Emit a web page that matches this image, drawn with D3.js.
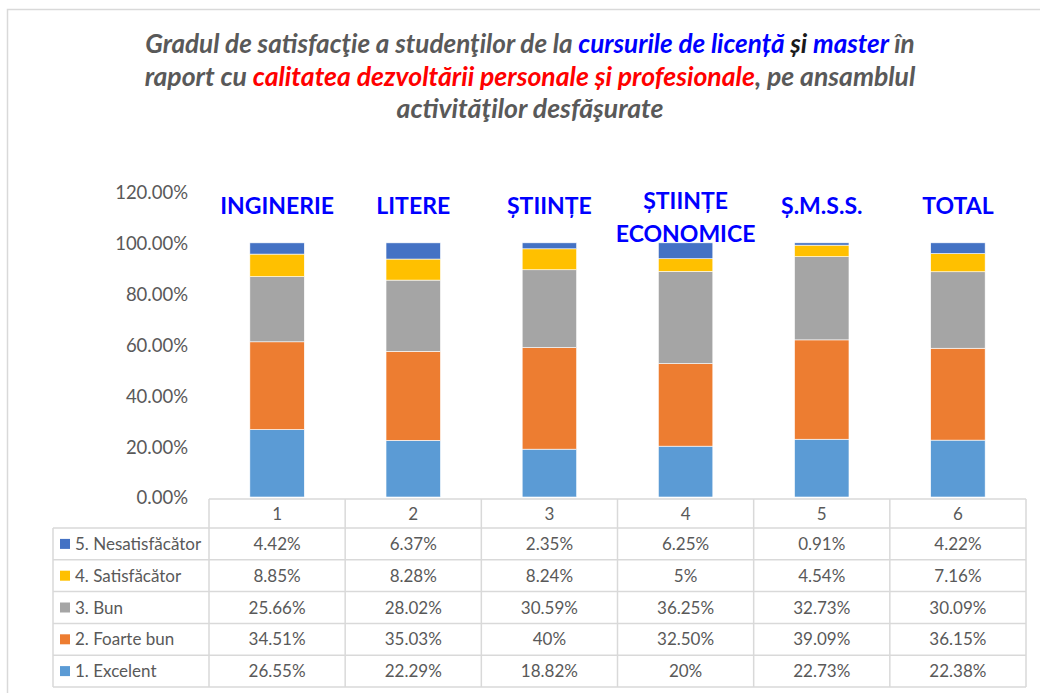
<!DOCTYPE html>
<html><head><meta charset="utf-8">
<script src="https://cdn.jsdelivr.net/npm/d3@7"></script>
<style>body{margin:0;background:#fff;} svg{display:block;font-family:Lato,"Open Sans",sans-serif;}</style>
</head><body>
<svg id="chart" width="1040" height="693"></svg>
<script>
// ---- data ----
const categories = ["1", "2", "3", "4", "5", "6"];
const groupLabels = [["INGINERIE"], ["LITERE"], ["ȘTIINȚE"], ["ȘTIINȚE", "ECONOMICE"], ["Ș.M.S.S."], ["TOTAL"]];
const seriesNames = ["1. Excelent", "2. Foarte bun", "3. Bun", "4. Satisfăcător", "5. Nesatisfăcător"];
const excelent       = [26.55, 22.29, 18.82, 20,    22.73, 22.38];
const foarteBun      = [34.51, 35.03, 40,    32.50, 39.09, 36.15];
const bun            = [25.66, 28.02, 30.59, 36.25, 32.73, 30.09];
const satisfacator   = [8.85,  8.28,  8.24,  5,     4.54,  7.16];
const nesatisfacator = [4.42,  6.37,  2.35,  6.25,  0.91,  4.22];
const yTicks = [0, 20, 40, 60, 80, 100, 120];
const titleLines = [
  [["Gradul de satisfacţie a studenţilor de la ", "text"], ["cursurile de licență", "blue"], [" ", "text"], ["și", "dark"], [" ", "text"], ["master", "blue"], [" în", "text"]],
  [["raport cu ", "text"], ["calitatea dezvoltării personale și profesionale", "red"], [", pe ansamblul", "text"]],
  [["activităţilor desfăşurate", "text"]]
];

// ---- styles ----
const seriesValues = [excelent, foarteBun, bun, satisfacator, nesatisfacator];
const colors = ["#5B9BD5", "#ED7D31", "#A5A5A5", "#FFC000", "#4472C4"];
const titleColors = {text: "#595959", blue: "#0000FF", red: "#FF0000", dark: "#1a1a1a"};
const textColor = "#595959";
const gridColor = "#d9d9d9";

const svg = d3.select("#chart");

// outer border
svg.append("rect").attr("x", 7.5).attr("y", 9.5).attr("width", 1040).attr("height", 700)
  .attr("fill", "none").attr("stroke", gridColor).attr("stroke-width", 1.5);

// title
const titleBaselines = [53, 86, 118];
const titleWidths = [770, 771, 267];
titleLines.forEach((line, i) => {
  const t = svg.append("text")
    .attr("x", 530).attr("y", titleBaselines[i])
    .attr("text-anchor", "middle")
    .attr("font-weight", "bold").attr("font-style", "italic")
    .attr("font-size", 22);
  line.forEach(([s, c]) => t.append("tspan").text(s).attr("fill", titleColors[c]));
  const w = t.node().getComputedTextLength();
  t.attr("font-size", 22 * titleWidths[i] / w);
});

// scales
const x = d3.scaleBand().domain(categories).range([209, 1026]).padding(0);
const y = d3.scaleLinear().domain([0, 120]).range([497, 192]);
const barW = x.bandwidth() * 0.4;

// y axis
const yAxis = d3.axisLeft(y).tickValues(yTicks).tickSize(0).tickPadding(0)
  .tickFormat(d => d3.format(".2f")(d) + "%");
const gy = svg.append("g").attr("transform", "translate(188,1)").call(yAxis);
gy.select(".domain").remove();
gy.selectAll("text").attr("fill", textColor).attr("font-size", 18.5)
  .attr("font-family", "Lato, sans-serif");

// stacked bars
const rows = categories.map((c, i) => {
  const r = {cat: c};
  seriesNames.forEach((s, k) => r[s] = seriesValues[k][i]);
  return r;
});
const stack = d3.stack().keys(seriesNames)(rows);
svg.append("g").selectAll("g").data(stack).join("g")
  .attr("fill", (d, k) => colors[k])
  .selectAll("rect").data(d => d).join("rect")
  .attr("x", d => x(d.data.cat) + (x.bandwidth() - barW) / 2)
  .attr("width", barW)
  .attr("y", d => y(d[1]))
  .attr("height", d => y(d[0]) - y(d[1]))
  .attr("stroke", "#ffffff").attr("stroke-width", 0.6);

// group labels
const labelBaseline = 214;
svg.append("g").selectAll("text").data(categories).join("text")
  .attr("text-anchor", "middle")
  .attr("font-weight", "bold").attr("font-size", 23).attr("fill", "#0000FF")
  .each(function (c, i) {
    const lines = groupLabels[i];
    const t = d3.select(this);
    const cx = x(c) + x.bandwidth() / 2;
    const first = lines.length > 1 ? labelBaseline - 5 : labelBaseline;
    lines.forEach((l, j) => t.append("tspan").attr("x", cx).attr("y", first + j * 33).text(l));
  });

// data table
const headerTop = 499, headerBottom = 528, tableBottom = 687;
const rowH = (tableBottom - headerBottom) / seriesNames.length;
const legendLeft = 53;
const tableRows = seriesNames.map((s, k) => ({name: s, k})).reverse();
const fmt = v => (Math.abs(v - Math.round(v)) < 1e-9 ? d3.format(".0f")(v) : d3.format(".2f")(v)) + "%";

const tg = svg.append("g");
// horizontal lines
tg.append("line").attr("x1", x.range()[0]).attr("x2", x.range()[1])
  .attr("y1", headerTop).attr("y2", headerTop);
d3.range(seriesNames.length + 1).forEach(j => {
  const yy = headerBottom + j * rowH;
  tg.append("line").attr("x1", legendLeft).attr("x2", x.range()[1]).attr("y1", yy).attr("y2", yy);
});
// vertical lines
tg.append("line").attr("x1", legendLeft).attr("x2", legendLeft).attr("y1", headerBottom).attr("y2", tableBottom);
categories.forEach((c, i) => {
  tg.append("line").attr("x1", x(c)).attr("x2", x(c)).attr("y1", headerTop).attr("y2", tableBottom);
});
tg.append("line").attr("x1", x.range()[1]).attr("x2", x.range()[1]).attr("y1", headerTop).attr("y2", tableBottom);
tg.selectAll("line").attr("stroke", gridColor).attr("stroke-width", 1.5);

// header labels
tg.selectAll("text.hdr").data(categories).join("text").attr("class", "hdr")
  .attr("x", c => x(c) + x.bandwidth() / 2).attr("y", (headerTop + headerBottom) / 2)
  .attr("dy", "0.36em").attr("text-anchor", "middle")
  .attr("font-size", 17).attr("fill", textColor).text(c => c);

// rows
tableRows.forEach((r, j) => {
  const cy = headerBottom + j * rowH + rowH / 2;
  tg.append("rect").attr("x", 60).attr("y", cy - 5).attr("width", 10).attr("height", 10)
    .attr("fill", colors[r.k]);
  tg.append("text").attr("x", 75).attr("y", cy).attr("dy", "0.36em")
    .attr("font-size", 17).attr("fill", textColor).text(r.name);
  categories.forEach((c, i) => {
    tg.append("text").attr("x", x(c) + x.bandwidth() / 2).attr("y", cy).attr("dy", "0.36em")
      .attr("text-anchor", "middle").attr("font-size", 17).attr("fill", textColor)
      .text(fmt(seriesValues[r.k][i]));
  });
});
</script>
</body></html>
